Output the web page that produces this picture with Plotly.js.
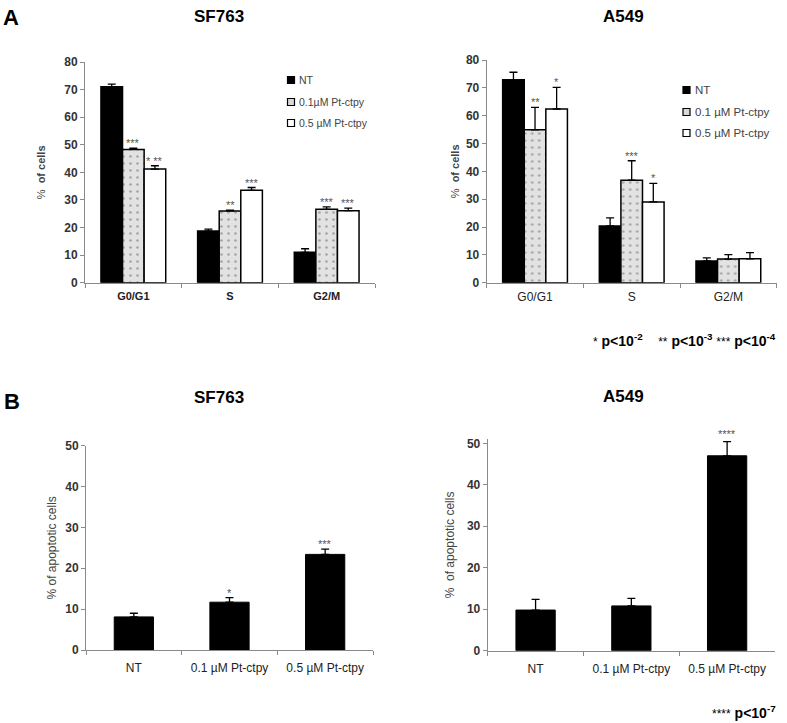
<!DOCTYPE html>
<html>
<head>
<meta charset="utf-8">
<script src="https://cdn.plot.ly/plotly-3.0.1.min.js"></script>
<style>html,body{margin:0;padding:0;background:#fff;}</style>
</head>
<body>
<div id="chart" style="width:787px;height:723px;"></div>
<script>
// ---------- DATA ----------
const phases = ['G0/G1', 'S', 'G2/M'];
const treatments = ['NT', '0.1 µM Pt-ctpy', '0.5 µM Pt-ctpy'];
const legendNamesSF = ['NT', '0.1µM Pt-ctpy', '0.5 µM Pt-ctpy'];
const legendNamesA = ['NT', '0.1 µM Pt-ctpy', '0.5 µM Pt-ctpy'];

// Panel A, SF763 (% of cells)
const sfNT   = [71.0, 18.7, 11.0];
const sfNTe  = [1.0, 0.7, 1.3];
const sf01   = [48.3, 26.0, 26.6];
const sf01e  = [0.5, 0.3, 0.9];
const sf05   = [41.2, 33.5, 26.1];
const sf05e  = [1.2, 1.0, 0.9];
const sfStarsNT = ['', '', ''];
const sfStars01 = ['***', '**', '***'];
const sfStars05 = ['* **', '***', '***'];

// Panel A, A549 (% of cells)
const aNT   = [72.9, 20.4, 7.8];
const aNTe  = [2.7, 2.9, 1.1];
const a01   = [54.9, 36.8, 8.5];
const a01e  = [8.1, 7.0, 1.6];
const a05   = [62.4, 29.0, 8.6];
const a05e  = [7.8, 6.7, 2.2];
const aStarsNT = ['', '', ''];
const aStars01 = ['**', '***', ''];
const aStars05 = ['*', '*', ''];

// Panel B, apoptotic cells
const sfApo   = [8.1, 11.7, 23.4];
const sfApoE  = [0.9, 1.1, 1.3];
const sfApoStars = ['', '*', '***'];
const aApo    = [9.8, 10.8, 47.0];
const aApoE   = [2.6, 1.8, 3.4];
const aApoStars = ['', '', '****'];

// ---------- STYLE / LAYOUT ----------
const W = 787, H = 723;
const FONT = 'Liberation Sans, Arial, Helvetica, sans-serif';
const fx = p => p / W;
const fy = p => 1 - p / H;
const BARGAP = 0.33;

const fills = [
  {color: '#000000'},
  {color: '#e2e2e2', pattern: {shape: '.', fillmode: 'overlay', fgcolor: '#6a6a6a', size: 7, solidity: 0.12}},
  {color: '#ffffff'}
];
const swatchFill = ['#000000', '#d8d8d8', '#ffffff'];

function groupTraces(vals, errs, names, xa, ya) {
  return vals.map((v, i) => ({
    type: 'bar',
    x: phases,
    y: v,
    name: names[i],
    xaxis: xa, yaxis: ya,
    showlegend: false,
    marker: Object.assign({}, fills[i], {line: {color: '#000', width: 1.5}}),
    error_y: {type: 'data', symmetric: false, array: errs[i], arrayminus: errs[i].map(() => 0),
              color: '#000', thickness: 1.3, width: 4},
    hoverinfo: 'y'
  }));
}

const traces = [].concat(
  groupTraces([sfNT, sf01, sf05], [sfNTe, sf01e, sf05e], legendNamesSF, 'x', 'y'),
  groupTraces([aNT, a01, a05], [aNTe, a01e, a05e], legendNamesA, 'x2', 'y2'),
  [{
    type: 'bar', x: treatments, y: sfApo, width: 0.41, xaxis: 'x3', yaxis: 'y3', showlegend: false,
    marker: {color: '#000', line: {color: '#000', width: 1}},
    error_y: {type: 'data', symmetric: false, array: sfApoE, arrayminus: sfApoE.map(() => 0),
              color: '#000', thickness: 1.3, width: 4}
  }, {
    type: 'bar', x: treatments, y: aApo, width: 0.41, xaxis: 'x4', yaxis: 'y4', showlegend: false,
    marker: {color: '#000', line: {color: '#000', width: 1}},
    error_y: {type: 'data', symmetric: false, array: aApoE, arrayminus: aApoE.map(() => 0),
              color: '#000', thickness: 1.3, width: 4}
  }]
);

const AX = '#8a8a8a';
function xAxis(dom, anchor, bold, size, lblGap) {
  return {
    domain: [fx(dom[0]), fx(dom[1])], anchor: anchor,
    type: 'category', showline: true, linecolor: AX, linewidth: 1,
    ticks: 'outside', tickson: 'boundaries', ticklen: 4, tickcolor: AX,
    ticklabelstandoff: lblGap,
    showgrid: false, zeroline: false, fixedrange: true,
    tickfont: {family: FONT, size: size, color: '#222', weight: bold ? 'bold' : 'normal'},
    automargin: false
  };
}
function yAxis(dom, anchor, range, title, tsize, standoff) {
  return {
    domain: [fy(dom[0]), fy(dom[1])], anchor: anchor,
    range: range, dtick: 10, showline: true, linecolor: AX, linewidth: 1,
    ticks: 'outside', ticklen: 4, tickcolor: AX, showgrid: false, zeroline: false,
    tickfont: {family: FONT, size: 12, color: '#333', weight: 'bold'},
    title: {text: title, standoff: standoff, font: {family: FONT, size: tsize, color: '#444'}},
    automargin: false, fixedrange: true
  };
}

const layout = {
  width: W, height: H, autosize: false,
  margin: {l: 0, r: 0, t: 0, b: 0},
  paper_bgcolor: '#fff', plot_bgcolor: '#fff',
  barmode: 'group', bargap: BARGAP, bargroupgap: 0,
  showlegend: false,
  xaxis: xAxis([85, 375], 'y', true, 11, 3),
  yaxis: yAxis([282.7, 62], 'x', [0, 80], '%  <b>of cells</b>', 11, 16),
  xaxis2: xAxis([486.7, 776.7], 'y2', false, 12, 3),
  yaxis2: yAxis([282.7, 60], 'x2', [0, 80], '%  <b>of cells</b>', 11, 4),
  xaxis3: xAxis([86, 373], 'y3', false, 12, 7),
  yaxis3: yAxis([650, 445.7], 'x3', [0, 50], '% of apoptotic cells', 12, 6),
  xaxis4: xAxis([487.7, 775], 'y4', false, 12, 7),
  yaxis4: yAxis([650.7, 439.2], 'x4', [0, 51], '%  of apoptotic cells', 12, 9),
};

const annotations = [];
const shapes = [];
function addText(text, x, y, size, opts) {
  annotations.push(Object.assign({
    text: text, x: fx(x), y: fy(y), xref: 'paper', yref: 'paper',
    showarrow: false, font: {family: FONT, size: size, color: '#000', weight: 'bold'},
    xanchor: 'center', yanchor: 'middle'
  }, opts || {}));
}
addText('A', 11, 17, 22);
addText('SF763', 219, 16, 17);
addText('A549', 623, 16, 17);
addText('B', 12, 401, 22);
addText('SF763', 219, 397, 17);
addText('A549', 623, 396, 17);

// significance stars above error bars (y converted to paper via the axis domain/range)
function yPaper(ax, v) {
  const d = ax.domain, r = ax.range;
  return d[0] + (v - r[0]) / (r[1] - r[0]) * (d[1] - d[0]);
}
function addStars(stars, vals, errs, xa, yaKey, shiftPx, yshift) {
  const ax = layout[yaKey];
  stars.forEach((s, j) => {
    if (!s) return;
    annotations.push({
      text: s, x: j, y: yPaper(ax, vals[j] + errs[j]), xref: xa, yref: 'paper',
      xshift: shiftPx, yshift: yshift, showarrow: false, yanchor: 'bottom', xanchor: 'center',
      font: {family: FONT, size: 11, color: '#555'}
    });
  });
}
const topDomPx = [375 - 85, 776.7 - 486.7];
[[sfStarsNT, sfNT, sfNTe], [sfStars01, sf01, sf01e], [sfStars05, sf05, sf05e]].forEach((t, i) => {
  const bw = (1 - BARGAP) / 3 * topDomPx[0] / 3;
  addStars(t[0], t[1], t[2], 'x', 'yaxis', (i - 1) * bw, -3);
});
[[aStarsNT, aNT, aNTe], [aStars01, a01, a01e], [aStars05, a05, a05e]].forEach((t, i) => {
  const bw = (1 - BARGAP) / 3 * topDomPx[1] / 3;
  addStars(t[0], t[1], t[2], 'x2', 'yaxis2', (i - 1) * bw, -3);
});
addStars(sfApoStars, sfApo, sfApoE, 'x3', 'yaxis3', 0, -3);
addStars(aApoStars, aApo, aApoE, 'x4', 'yaxis4', 0, 0);

// p-value keys
const st = s => '<span style="font-size:12px;font-weight:normal">' + s + '</span>';
addText(st('*') + ' p&lt;10<sup>-2</sup>    ' + st('**') + ' p&lt;10<sup>-3</sup> ' + st('***') + ' p&lt;10<sup>-4</sup>',
        778, 340, 14, {xanchor: 'right'});
addText(st('****') + ' p&lt;10<sup>-7</sup>', 778, 712, 14, {xanchor: 'right'});

// legends (swatch + label)
function addLegend(names, x, ys, size) {
  names.forEach((n, i) => {
    shapes.push({type: 'rect', xref: 'paper', yref: 'paper',
      x0: fx(x - 3.5), x1: fx(x + 3.5), y0: fy(ys[i] + 3.5), y1: fy(ys[i] - 3.5),
      fillcolor: swatchFill[i], line: {color: '#000', width: 1.2}});
    annotations.push({text: n, x: fx(x + 6), y: fy(ys[i]), xref: 'paper', yref: 'paper',
      xanchor: 'left', yanchor: 'middle', showarrow: false,
      font: {family: FONT, size: size, color: '#444'}});
  });
}
addLegend(legendNamesSF, 291, [80, 102, 123], 10.5);
addLegend(legendNamesA, 686.5, [90, 112, 133], 11.5);

layout.annotations = annotations;
layout.shapes = shapes;

Plotly.newPlot('chart', traces, layout, {displayModeBar: false, staticPlot: true});
</script>
</body>
</html>
